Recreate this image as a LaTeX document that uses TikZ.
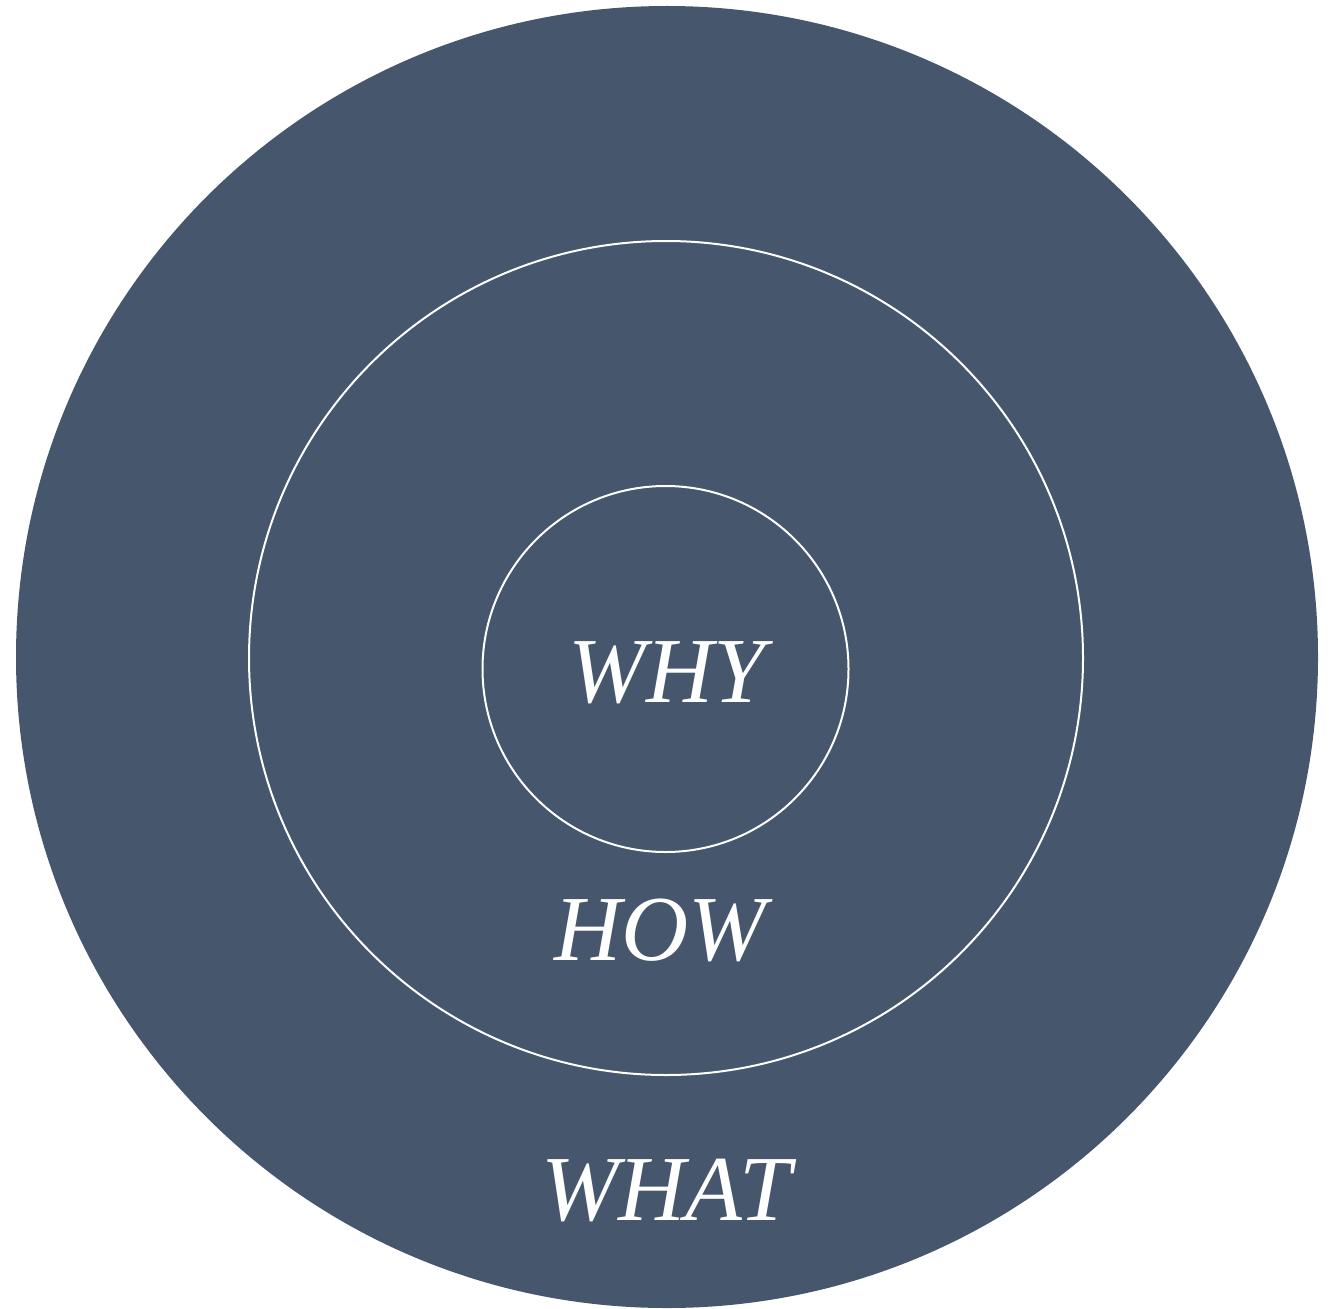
\documentclass[tikz,border=0pt]{standalone}
\usepackage{fontspec}
\setmainfont{Liberation Serif}
\definecolor{navy}{HTML}{45566D}
\begin{document}
\begin{tikzpicture}[x=1pt,y=-1pt,
  ring/.style={draw=white,line width=2pt},
  lbl/.style={text=white,anchor=base,inner sep=0pt,font=\fontsize{93}{93}\selectfont\itshape}]
\useasboundingbox (0,0) rectangle (1337,1308);
\fill[navy] (667,657) circle[radius=651] coordinate (outer);
\draw[ring] (666,658) circle[radius=417];
\draw[ring] (665.5,669) circle[radius=183];
\node[lbl] (why) at (667,702) {WHY};
\node[lbl] (how) at (660,960) {HOW};
\node[lbl] (what) at (666,1220) {WHAT};
\end{tikzpicture}
\end{document}
